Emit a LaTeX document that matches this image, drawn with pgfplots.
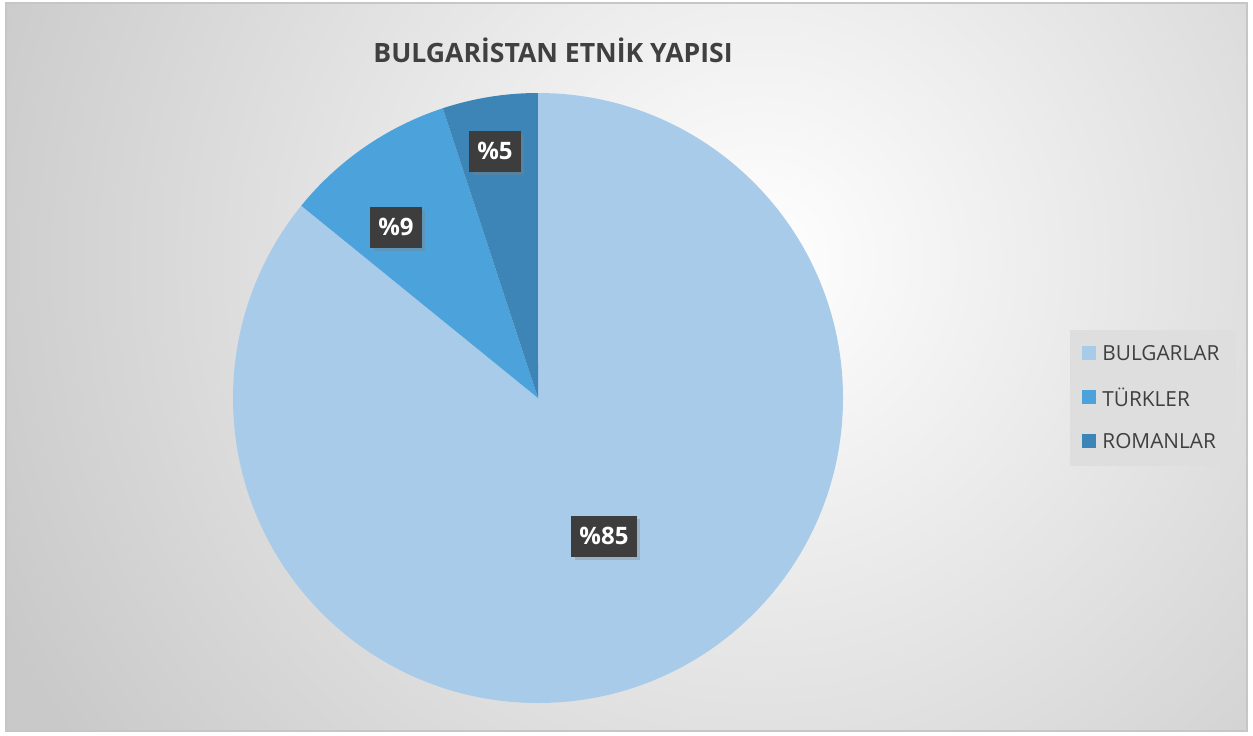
\documentclass[border=0pt]{standalone}
\usepackage{pgfplots}
\pgfplotsset{compat=1.18}
\usepackage{pgfplotstable}
\usepackage{fontspec}
\setmainfont{Open Sans}
\usetikzlibrary{shadows}
\definecolor{cBul}{HTML}{A9CBEA}
\definecolor{cTur}{HTML}{4CA3DC}
\definecolor{cRom}{HTML}{3E85B7}
\definecolor{cTxt}{HTML}{404040}
\definecolor{cBox}{HTML}{3D3D3D}
\definecolor{cEdge}{HTML}{C9C9C9}
\definecolor{cLeg}{HTML}{DEDEDE}

\pgfplotstableread{
group value
BULGARLAR 85
TURKLER 9
ROMANLAR 5
}\piedata
\pgfplotstablegetelem{0}{value}\of\piedata\edef\vA{\pgfplotsretval}
\pgfplotstablegetelem{1}{value}\of\piedata\edef\vB{\pgfplotsretval}
\pgfplotstablegetelem{2}{value}\of\piedata\edef\vC{\pgfplotsretval}
\pgfmathsetmacro\tot{\vA+\vB+\vC}
\pgfmathsetmacro\aA{90-360*(\vA/\tot)}
\pgfmathsetmacro\aB{\aA-360*(\vB/\tot)}
\pgfmathsetmacro\aC{\aB-360*(\vC/\tot)}

\begin{document}
\begin{tikzpicture}
\begin{axis}[
  hide axis, scale only axis,
  width=626.5pt, height=367.5pt,
  xmin=0, xmax=1253, ymin=0, ymax=735, y dir=reverse,
  clip=false,
]
% background
\fill[white] (axis cs:0,0) rectangle (axis cs:1253,735);
\begin{scope}
\clip (axis cs:6,3) rectangle (axis cs:1247,731);
\fill[cEdge] (axis cs:6,3) rectangle (axis cs:1247,731);
\shade[inner color=white, outer color=cEdge] (axis cs:760,260) circle (420pt);
\end{scope}
\draw[gray!45, line width=0.6pt] (axis cs:6,3) rectangle (axis cs:1247,731);

% pie slices
\fill[cBul] (axis cs:538,398) -- ++(90:152.5pt) arc[start angle=90, end angle=\aA, radius=152.5pt] -- cycle;
\fill[cTur] (axis cs:538,398) -- ++(\aA:152.5pt) arc[start angle=\aA, end angle=\aB, radius=152.5pt] -- cycle;
\fill[cRom] (axis cs:538,398) -- ++(\aB:152.5pt) arc[start angle=\aB, end angle=\aC, radius=152.5pt] -- cycle;

% data labels
\tikzset{dl/.style={fill=cBox, text=white, font=\bfseries\fontsize{12}{14}\selectfont,
  inner xsep=4pt, inner ysep=3.5pt, minimum height=20.5pt,
  drop shadow={opacity=0.35, shadow xshift=1.8pt, shadow yshift=-1.8pt}}}
\node[dl] at (axis cs:604,536) {\%\vA};
\node[dl] at (axis cs:396,227) {\%\vB};
\node[dl] at (axis cs:495,151) {\%\vC};

% title
\node[text=cTxt, font=\bfseries\fontsize{13.3}{16}\selectfont] at (axis cs:553,50) {BULGARİSTAN ETNİK YAPISI};

% legend
\fill[cLeg] (axis cs:1070,330) rectangle (axis cs:1236,466);
\fill[cBul] (axis cs:1082,346) rectangle (axis cs:1096,360);
\fill[cTur] (axis cs:1082,390) rectangle (axis cs:1096,404);
\fill[cRom] (axis cs:1082,434) rectangle (axis cs:1096,448);
\tikzset{lg/.style={anchor=west, text=cTxt, font=\fontsize{10.4}{12}\selectfont, inner sep=0pt}}
\node[lg] at (axis cs:1102,353) {BULGARLAR};
\node[lg] at (axis cs:1102,397) {TÜRKLER};
\node[lg] at (axis cs:1102,441) {ROMANLAR};
\end{axis}
\end{tikzpicture}
\end{document}
